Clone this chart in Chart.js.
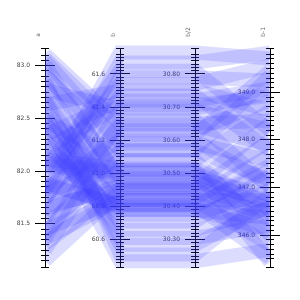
<!DOCTYPE html>
<html>
<head>
<meta charset="utf-8">
<script src="https://cdn.jsdelivr.net/npm/chart.js@4.4.1/dist/chart.umd.min.js"></script>
<style>
  html, body { margin: 0; padding: 0; background: #fff; }
  #wrap { width: 300px; height: 300px; }
</style>
</head>
<body>
<div id="wrap"><canvas id="chart" width="300" height="300"></canvas></div>
<script>
// axis names and ranges
const axisNames = ['a', 'b', 'b/2', 'b-1'];
const axisMin = [81.09, 60.435, 30.2175, 345.33];
const axisMax = [83.16, 61.752, 30.876, 349.914];
const majorStep = [0.5, 0.2, 0.1, 1];
const minorStep = [0.05, 0.02, 0.01, 0.1];
const labelDigits = [1, 1, 2, 1];

// one entry per line
const aVals = [83.11, 81.83, 81.15, 82.48, 82.11, 82.08, 82.05, 81.89, 81.87, 81.64,
  81.67, 83.01, 82.95, 83.07, 82.91, 82.77, 82.67, 82.58, 82.48, 82.34,
  82.25, 82.20, 82.02, 81.78, 81.73, 81.59, 81.50, 81.41, 81.31, 81.25,
  81.83, 81.97, 82.81, 82.30, 82.16, 81.78, 81.45, 82.63, 83.05, 81.55,
  82.44, 81.36, 82.67, 82.53, 82.86, 81.73, 81.36, 82.39];
const bVals = [61.30, 61.73, 60.89, 60.47, 61.03, 61.01, 61.00, 60.80, 60.81, 60.93,
  60.90, 60.95, 60.97, 61.26, 61.14, 61.39, 60.81, 60.78, 61.08, 61.44,
  60.75, 61.41, 61.62, 61.67, 61.47, 61.29, 61.02, 61.14, 60.91, 61.23,
  61.20, 61.54, 60.85, 60.66, 60.78, 61.08, 60.84, 61.50, 61.18, 61.38,
  60.92, 60.84, 60.57, 60.61, 60.51, 61.58, 61.32, 60.71];
const halfVals = [30.65, 30.865, 30.445, 30.235, 30.515, 30.505, 30.50, 30.40, 30.405, 30.465,
  30.45, 30.475, 30.485, 30.63, 30.57, 30.695, 30.405, 30.39, 30.54, 30.72,
  30.375, 30.705, 30.81, 30.835, 30.735, 30.645, 30.51, 30.57, 30.455, 30.615,
  30.60, 30.77, 30.425, 30.33, 30.39, 30.54, 30.42, 30.75, 30.59, 30.69,
  30.46, 30.42, 30.285, 30.305, 30.255, 30.79, 30.66, 30.355];
const cVals = [348.41, 349.71, 346.42, 345.69, 346.63, 346.53, 346.27, 347.47, 347.36, 348.35,
  347.99, 346.73, 346.84, 348.83, 349.35, 348.99, 345.52, 346.11, 348.62, 349.08,
  346.94, 348.93, 348.20, 349.83, 347.78, 347.88, 345.44, 347.15, 345.90, 349.45,
  347.05, 349.56, 347.68, 346.57, 346.36, 346.00, 346.73, 348.62, 347.57, 348.20,
  346.48, 345.79, 346.63, 346.21, 346.84, 349.24, 346.99, 347.26];

const columns = [aVals, bVals, halfVals, cVals];

function norm(v, i) {
  return (v - axisMin[i]) / (axisMax[i] - axisMin[i]);
}

const datasets = aVals.map((_, k) => ({
  data: columns.map((col, i) => ({ x: i, y: norm(col[k], i) })),
  borderColor: 'rgba(60, 60, 255, 0.18)',
  borderWidth: 14,
  pointRadius: 0,
  pointHoverRadius: 0,
  tension: 0,
  fill: false,
  yAxisID: 'n',
  clip: { left: 0, right: 0, top: 4, bottom: 4 }
}));

const tickFont = { family: 'DejaVu Sans', size: 6 };

const scales = {
  x: {
    type: 'linear',
    axis: 'x',
    position: 'top',
    min: 0,
    max: 3,
    grid: { display: false, drawTicks: false },
    border: { display: false },
    ticks: {
      stepSize: 1,
      autoSkip: false,
      minRotation: 90,
      maxRotation: 90,
      padding: 12,
      labelOffset: 1,
      font: tickFont,
      color: '#666',
      callback: v => axisNames[v] ?? ''
    }
  },
  n: { type: 'linear', axis: 'y', display: false, min: 0, max: 1 }
};

function isMajor(v, i) {
  const r = v / majorStep[i];
  return Math.abs(r - Math.round(r)) < 1e-6;
}

axisNames.forEach((name, i) => {
  // the vertical axis line
  scales['line' + i] = {
    type: 'linear',
    axis: 'y',
    position: { x: i },
    min: 0,
    max: 1,
    grid: { display: false },
    ticks: { display: false },
    border: { display: true, color: '#000', width: 1 },
    z: 1
  };
  // long ticks
  scales['major' + i] = {
    type: 'linear',
    axis: 'y',
    position: { x: i + 0.134 },
    min: axisMin[i],
    max: axisMax[i],
    border: { display: false },
    grid: {
      drawOnChartArea: false,
      drawTicks: true,
      tickLength: 20,
      tickWidth: 1,
      tickColor: ctx => (ctx.tick && isMajor(ctx.tick.value, i)) ? '#000' : 'rgba(0,0,0,0)'
    },
    ticks: { display: false, stepSize: majorStep[i], maxTicksLimit: 500, autoSkip: false },
    z: 1
  };
  // short ticks
  scales['minor' + i] = {
    type: 'linear',
    axis: 'y',
    position: { x: i + 0.0535 },
    min: axisMin[i],
    max: axisMax[i],
    border: { display: false },
    grid: { drawOnChartArea: false, drawTicks: true, tickLength: 8, tickColor: '#000', tickWidth: 1 },
    ticks: { display: false, stepSize: minorStep[i], maxTicksLimit: 500, autoSkip: false },
    z: 1
  };
  // tick labels, left of the axis
  scales['label' + i] = {
    type: 'linear',
    axis: 'y',
    position: { x: i - 0.2 },
    min: axisMin[i],
    max: axisMax[i],
    border: { display: false },
    grid: { display: false },
    ticks: {
      stepSize: majorStep[i],
      maxTicksLimit: 500,
      autoSkip: false,
      font: tickFont,
      color: '#444',
      callback: v => isMajor(v, i) ? v.toFixed(labelDigits[i]) : ''
    },
    z: 1
  };
});

new Chart(document.getElementById('chart'), {
  type: 'line',
  data: { datasets },
  options: {
    responsive: false,
    animation: false,
    devicePixelRatio: 1,
    layout: { padding: { left: 45, right: 30, top: 15, bottom: 33 } },
    plugins: { legend: { display: false }, tooltip: { enabled: false } },
    scales
  }
});
</script>
</body>
</html>
